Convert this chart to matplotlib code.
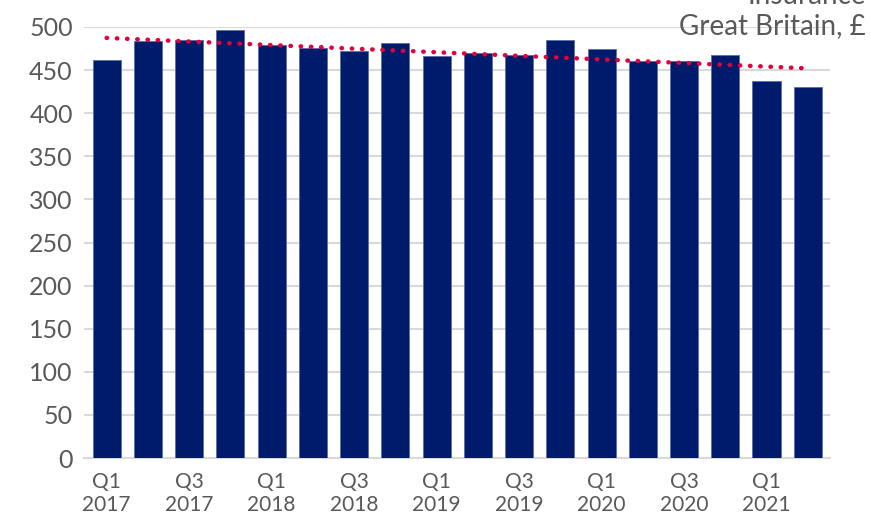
import numpy as np
import matplotlib.pyplot as plt

quarters = ["Q1\n2017", "Q2\n2017", "Q3\n2017", "Q4\n2017",
            "Q1\n2018", "Q2\n2018", "Q3\n2018", "Q4\n2018",
            "Q1\n2019", "Q2\n2019", "Q3\n2019", "Q4\n2019",
            "Q1\n2020", "Q2\n2020", "Q3\n2020", "Q4\n2020",
            "Q1\n2021", "Q2\n2021"]
premium = [462, 484, 485, 496, 479, 476, 472, 481, 466, 470,
           468, 485, 475, 460, 460, 468, 437, 430]

navy = "#001B6B"
grey = "#595959"

fig = plt.figure(figsize=(8.71, 5.19), dpi=100)
ax = fig.add_axes([0.0964, 0.1175, 0.857, 0.8305])

x = np.arange(len(premium))
ax.bar(x, premium, width=0.68, color=navy, edgecolor="#5a6fa8", linewidth=0.6, zorder=3)

# linear trend line
slope, icpt = np.polyfit(x, premium, 1)
ax.plot(x, slope * x + icpt, color="#E4003B", linestyle=(0, (0.1, 2.2)),
        linewidth=3.2, dash_capstyle="round", zorder=4)

ax.set_ylim(0, 500)
ax.set_xlim(-0.55, 17.55)
ax.set_yticks(range(0, 501, 50))
ax.set_xticks(x[::2])
ax.set_xticklabels(quarters[::2])
ax.yaxis.grid(True, color="#d9d9d9", linewidth=1.5, zorder=0)
ax.set_axisbelow(True)
for s in ["top", "right", "left"]:
    ax.spines[s].set_visible(False)
ax.spines["bottom"].set_color("#d9d9d9")
ax.spines["bottom"].set_linewidth(1.5)
ax.tick_params(axis="both", length=0, colors=grey)
ax.tick_params(axis="y", labelsize=18, pad=8)
ax.tick_params(axis="x", labelsize=15, pad=10)
for lbl in ax.get_xticklabels() + ax.get_yticklabels():
    lbl.set_fontfamily("Lato")

# header, first line runs off the top as in the source
fig.text(0.994, 1 - 4 / 519, "Insurance", ha="right", va="baseline",
         fontsize=20, color=grey, family="Lato")
fig.text(0.994, 1 - 34 / 519, "Great Britain, £", ha="right", va="baseline",
         fontsize=20, color=grey, family="Lato")

fig.savefig("out.png", dpi=100)
